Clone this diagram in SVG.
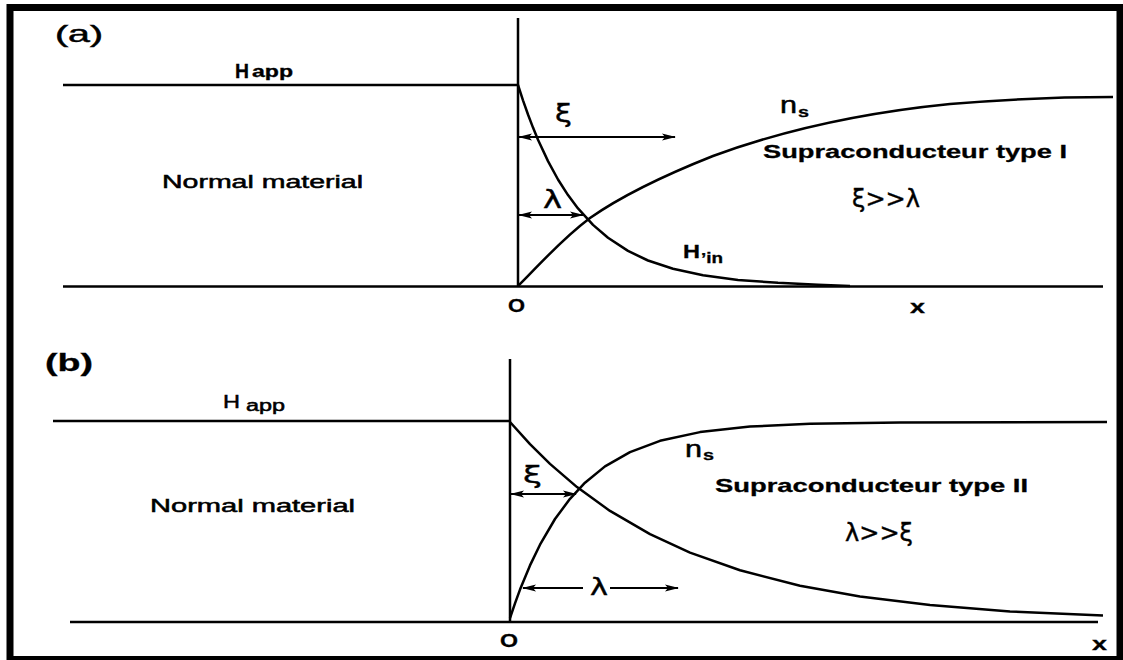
<svg xmlns="http://www.w3.org/2000/svg" width="1123" height="660" viewBox="0 0 1123 660">
<defs>
<style>
.ln{fill:none;stroke:#000;stroke-width:2.5;stroke-linejoin:round;stroke-linecap:butt}
.ar{fill:none;stroke:#000;stroke-width:1.8}
.t{font-family:"Liberation Sans",Arial,sans-serif;fill:#000;stroke:#000;stroke-width:0.5}
.b{font-weight:bold;stroke-width:0.3}
.g{font-family:"DejaVu Sans","Liberation Sans",sans-serif;fill:#000;stroke:#000;stroke-width:0.4}
</style>
<marker id="ah" viewBox="0 0 14 8" refX="13" refY="4" markerWidth="14" markerHeight="8" markerUnits="userSpaceOnUse" orient="auto-start-reverse">
<path d="M0,0.5 L14,4 L0,7.5 L3,4 z" fill="#000"/>
</marker>
</defs>
<rect x="0" y="0" width="1123" height="660" fill="#fff"/>
<rect x="10" y="7.5" width="1110" height="652" fill="none" stroke="#000" stroke-width="7"/>

<g id="panel-a">
<text class="t" x="55" y="42" font-size="24" textLength="48" lengthAdjust="spacingAndGlyphs">(a)</text>
<text class="t b" x="235" y="78" font-size="20" textLength="14" lengthAdjust="spacingAndGlyphs">H</text>
<text class="t b" x="252" y="77" font-size="16" textLength="41" lengthAdjust="spacingAndGlyphs">app</text>
<text class="t" x="162" y="188" font-size="18" textLength="201" lengthAdjust="spacingAndGlyphs">Normal  material</text>
<text class="t b" x="763" y="158" font-size="19" textLength="304" lengthAdjust="spacingAndGlyphs">Supraconducteur type I</text>
<text class="t" x="780" y="113" font-size="24" textLength="17" lengthAdjust="spacingAndGlyphs">n</text>
<text class="t b" x="798" y="117" font-size="14" textLength="11" lengthAdjust="spacingAndGlyphs">s</text>
<text class="t b" x="683" y="258" font-size="18" textLength="17" lengthAdjust="spacingAndGlyphs">H</text>
<text class="t b" x="701" y="263" font-size="14" textLength="22" lengthAdjust="spacingAndGlyphs">ʼin</text>
<text class="g" x="852" y="207" font-size="24" textLength="68" lengthAdjust="spacingAndGlyphs">ξ&gt;&gt;λ</text>
<text class="g" x="555" y="122" font-size="24" textLength="17" lengthAdjust="spacingAndGlyphs">ξ</text>
<text class="g" x="543" y="208" font-size="24" textLength="19" lengthAdjust="spacingAndGlyphs">λ</text>
<text class="t b" x="508" y="312" font-size="19" textLength="17" lengthAdjust="spacingAndGlyphs">O</text>
<text class="t b" x="910" y="313" font-size="19" textLength="15" lengthAdjust="spacingAndGlyphs">x</text>
</g>

<g id="panel-b">
<text class="t b" x="45" y="371" font-size="24" textLength="48" lengthAdjust="spacingAndGlyphs">(b)</text>
<text class="t" x="223" y="408" font-size="19" textLength="17" lengthAdjust="spacingAndGlyphs">H</text>
<text class="t" x="246" y="411" font-size="16" textLength="39" lengthAdjust="spacingAndGlyphs">app</text>
<text class="t" x="150" y="512" font-size="18" textLength="205" lengthAdjust="spacingAndGlyphs">Normal  material</text>
<text class="t b" x="715" y="492" font-size="19" textLength="313" lengthAdjust="spacingAndGlyphs">Supraconducteur type II</text>
<text class="t" x="685" y="457" font-size="24" textLength="17" lengthAdjust="spacingAndGlyphs">n</text>
<text class="t b" x="703" y="460" font-size="14" textLength="11" lengthAdjust="spacingAndGlyphs">s</text>
<text class="g" x="845" y="541" font-size="24" textLength="68" lengthAdjust="spacingAndGlyphs">λ&gt;&gt;ξ</text>
<text class="g" x="523" y="483" font-size="23" textLength="19" lengthAdjust="spacingAndGlyphs">ξ</text>
<text class="g" x="590" y="595" font-size="23" textLength="18" lengthAdjust="spacingAndGlyphs">λ</text>
<text class="t b" x="500" y="647" font-size="19" textLength="18" lengthAdjust="spacingAndGlyphs">O</text>
<text class="t b" x="1092" y="650" font-size="19" textLength="15" lengthAdjust="spacingAndGlyphs">x</text>
</g>

<g id="connectors">
<line class="ln" x1="63" y1="85" x2="518" y2="85"/>
<line class="ln" x1="518" y1="18" x2="518" y2="287"/>
<line class="ln" x1="63" y1="286.5" x2="1103" y2="286.5"/>
<polyline class="ln" points="518,85 523,100.3 528,114.5 533,127.6 538,139.7 548,161.1 558,179.5 568,195.1 578,208.4 593,224.9 608,237.8 628,250.9 648,260.5 673,268.8 703,275.3 738,279.9 778,282.8 818,284.8 850,286"/>
<path class="ln" d="M518,286 C533,272 558,242 590,218 C620,197 660,177 713,156 C770,135 850,114 950,104 C1020,98 1070,97 1113,97"/>
<line class="ar" x1="519" y1="137" x2="675" y2="137" marker-start="url(#ah)" marker-end="url(#ah)"/>
<line class="ar" x1="519" y1="215" x2="583" y2="215" marker-start="url(#ah)" marker-end="url(#ah)"/>
<line class="ln" x1="53" y1="421" x2="510" y2="421"/>
<line class="ln" x1="510" y1="359" x2="510" y2="622"/>
<line class="ln" x1="70" y1="622" x2="1098" y2="622"/>
<polyline class="ln" points="510,422 530,444.2 550,463.9 577,487.1 610,510.9 650,534.2 690,552.6 740,570.3 800,585.7 860,596.5 930,605.1 1010,611.4 1103,615.5"/>
<polyline class="ln" points="510,618 515,603.3 520,589.6 530,565.4 540,544.7 555,519 570,498.8 585,482.7 605,466.4 630,452.1 660,440.8 700,432.1 750,426.6 810,423.8 900,422.5 1107,422"/>
<line class="ar" x1="511" y1="494" x2="576" y2="494" marker-start="url(#ah)" marker-end="url(#ah)"/>
<line class="ar" x1="523" y1="588" x2="583" y2="588" marker-start="url(#ah)"/>
<line class="ar" x1="610" y1="588" x2="678" y2="588" marker-end="url(#ah)"/>
</g>
</svg>
